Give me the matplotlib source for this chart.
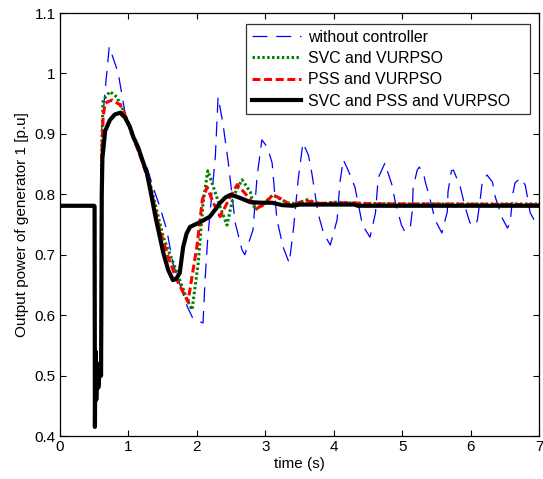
import matplotlib
matplotlib.use("Agg")
import matplotlib.pyplot as plt

plt.rcParams['font.family'] = ['Liberation Sans', 'DejaVu Sans']

# ---- data ----
t_black = [0, 0.5, 0.505, 0.51, 0.52, 0.53, 0.545, 0.56, 0.575, 0.59, 0.6, 0.605, 0.61, 0.62,
           0.66, 0.73, 0.8, 0.88, 0.95, 1.02, 1.07, 1.14, 1.2, 1.27, 1.32, 1.4, 1.51, 1.58,
           1.65, 1.7, 1.75, 1.8, 1.85, 1.9, 2.05, 2.19, 2.27, 2.34, 2.42, 2.49, 2.56, 2.63,
           2.78, 2.95, 3.1, 3.25, 3.4, 3.5, 4.3, 4.35, 7.0]
v_black = [0.781, 0.781, 0.78, 0.415, 0.54, 0.46, 0.52, 0.48, 0.50, 0.52, 0.50, 0.62, 0.80, 0.86,
           0.905, 0.923, 0.932, 0.935, 0.927, 0.912, 0.895, 0.878, 0.858, 0.835, 0.807, 0.76, 0.703, 0.675,
           0.658, 0.66, 0.67, 0.713, 0.735, 0.746, 0.754, 0.763, 0.775, 0.786, 0.795, 0.799, 0.797, 0.794,
           0.787, 0.786, 0.786, 0.782, 0.781, 0.783, 0.783, 0.781, 0.781]

t_red = [0, 0.5, 0.505, 0.51, 0.52, 0.53, 0.545, 0.56, 0.575, 0.59, 0.6, 0.605, 0.61, 0.63,
         0.66, 0.76, 0.88, 0.98, 1.1, 1.2, 1.32, 1.46, 1.6, 1.71, 1.87, 2.0, 2.08, 2.15,
         2.24, 2.34, 2.49, 2.59, 2.7, 2.78, 2.88, 2.97, 3.11, 3.26, 3.36, 3.51, 3.61, 3.8,
         4.2, 4.6, 5.0, 7.0]
v_red = [0.781, 0.781, 0.78, 0.42, 0.54, 0.46, 0.52, 0.48, 0.50, 0.52, 0.50, 0.65, 0.86, 0.928,
         0.951, 0.956, 0.948, 0.923, 0.885, 0.855, 0.812, 0.74, 0.69, 0.658, 0.622, 0.713, 0.791, 0.812,
         0.786, 0.763, 0.796, 0.816, 0.802, 0.791, 0.777, 0.782, 0.799, 0.791, 0.782, 0.787, 0.789, 0.785,
         0.786, 0.784, 0.784, 0.783]

t_green = [0, 0.5, 0.505, 0.51, 0.52, 0.53, 0.545, 0.56, 0.575, 0.59, 0.6, 0.605, 0.61, 0.63,
           0.73, 0.83, 0.92, 1.02, 1.15, 1.32, 1.51, 1.71, 1.86, 1.93, 2.02, 2.09, 2.16,
           2.34, 2.44, 2.53, 2.66, 2.78, 2.85, 2.98, 3.11, 3.32, 3.45, 3.61, 3.8, 4.0,
           4.4, 5.0, 7.0]
v_green = [0.781, 0.781, 0.78, 0.42, 0.54, 0.46, 0.52, 0.48, 0.50, 0.52, 0.50, 0.66, 0.88, 0.956,
           0.97, 0.961, 0.94, 0.912, 0.875, 0.816, 0.729, 0.67, 0.625, 0.609, 0.686, 0.786, 0.839,
           0.779, 0.749, 0.796, 0.824, 0.804, 0.774, 0.785, 0.799, 0.786, 0.784, 0.791, 0.784, 0.787,
           0.785, 0.784, 0.784]

t_blue = [0, 0.5, 0.505, 0.51, 0.52, 0.53, 0.545, 0.56, 0.575, 0.59, 0.6, 0.605, 0.61, 0.66,
          0.72, 0.85, 0.95, 1.07, 1.27, 1.36, 1.46, 1.56, 1.65, 1.86, 1.94, 2.09, 2.12, 2.16,
          2.27, 2.31, 2.38, 2.46, 2.56, 2.66, 2.70, 2.82, 2.88, 2.95, 3.03, 3.10, 3.17, 3.26,
          3.35, 3.41, 3.48, 3.55, 3.63, 3.68, 3.77, 3.85, 3.95, 4.05, 4.09, 4.14, 4.21, 4.31,
          4.42, 4.53, 4.61, 4.65, 4.75, 4.78, 4.85, 4.90, 4.99, 5.04, 5.12, 5.15, 5.16, 5.22,
          5.25, 5.31, 5.34, 5.41, 5.48, 5.58, 5.66, 5.67, 5.72, 5.75, 5.85, 5.92, 5.99, 6.07,
          6.10, 6.14, 6.17, 6.24, 6.32, 6.36, 6.46, 6.54, 6.58, 6.62, 6.65, 6.73, 6.80, 6.87,
          6.93, 7.0]
v_blue = [0.781, 0.781, 0.78, 0.42, 0.54, 0.46, 0.52, 0.48, 0.50, 0.52, 0.50, 0.68, 0.907, 0.973,
          1.044, 1.001, 0.935, 0.895, 0.845, 0.812, 0.779, 0.741, 0.686, 0.614, 0.595, 0.587, 0.658, 0.729,
          0.862, 0.961, 0.918, 0.852, 0.753, 0.708, 0.70, 0.741, 0.829, 0.89, 0.878, 0.852, 0.758, 0.713,
          0.686, 0.741, 0.824, 0.885, 0.865, 0.835, 0.769, 0.736, 0.716, 0.758, 0.819, 0.857, 0.84, 0.812,
          0.749, 0.729, 0.769, 0.827, 0.852, 0.84, 0.816, 0.787, 0.749, 0.738, 0.746, 0.774, 0.811, 0.84,
          0.845, 0.835, 0.82, 0.791, 0.758, 0.736, 0.771, 0.804, 0.839, 0.84, 0.812, 0.779, 0.753, 0.748,
          0.758, 0.791, 0.82, 0.832, 0.82, 0.796, 0.761, 0.744, 0.754, 0.802, 0.819, 0.827, 0.815, 0.77,
          0.757, 0.75]

labels = ["without controller", "SVC and VURPSO", "PSS and VURPSO", "SVC and PSS and VURPSO"]
x_ticks = [0, 1, 2, 3, 4, 5, 6, 7]
y_ticks = [0.4, 0.5, 0.6, 0.7, 0.8, 0.9, 1.0, 1.1]
y_ticklabels = ["0.4", "0.5", "0.6", "0.7", "0.8", "0.9", "1", "1.1"]

fig = plt.figure(figsize=(5.43, 4.79), dpi=100)
ax = fig.add_axes([60/543, 1-436/479, 479/543, 423/479])

ax.plot(t_blue, v_blue, color='#0000ff', lw=0.9, linestyle=(0, (12, 7)), label=labels[0])
ax.plot(t_green, v_green, color='#008000', lw=2.2, linestyle=(0, (0.8, 0.8)), label=labels[1])
ax.plot(t_red, v_red, color='#ff0000', lw=2.2, linestyle=(0, (2.6, 1.2)), label=labels[2])
ax.plot(t_black, v_black, color='black', lw=3.0, linestyle='-', label=labels[3])

ax.set_xlim(0, 7)
ax.set_ylim(0.4, 1.1)
ax.set_xticks(x_ticks)
ax.set_yticks(y_ticks)
ax.set_yticklabels(y_ticklabels)
ax.tick_params(direction='in', length=4, width=0.8, top=True, right=True, labelsize=11, pad=3)
for s in ax.spines.values():
    s.set_linewidth(0.9)

ax.set_xlabel("time (s)", fontsize=11, labelpad=2)
ax.set_ylabel("Output power of generator 1 [p.u]", fontsize=11, labelpad=4)

x0 = (246 - 60) / 479
y0 = (436 - 113) / 423
w = (530 - 246) / 479
h = (113 - 24) / 423
leg = ax.legend(loc='upper left', bbox_to_anchor=(x0, y0, w, h), mode='expand', borderaxespad=0,
                fontsize=11.4, fancybox=False, frameon=True, edgecolor='black', handlelength=3.1,
                labelspacing=0.4, borderpad=0.35, handletextpad=0.45)
leg.get_frame().set_linewidth(0.9)

fig.savefig("out.png", dpi=100)
